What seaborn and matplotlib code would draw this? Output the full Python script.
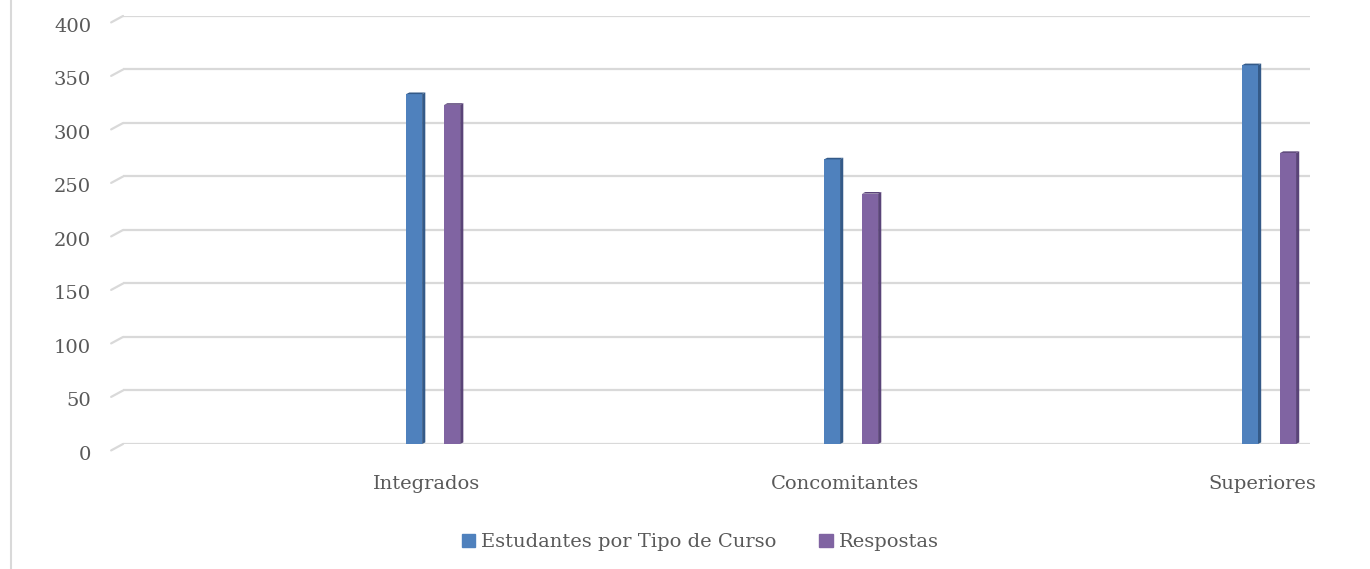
import numpy as np
import pandas as pd
import seaborn as sns
import matplotlib.pyplot as plt
import matplotlib.transforms as mtransforms
from matplotlib.patches import Polygon
from matplotlib.lines import Line2D

# data
categories = ['Integrados', 'Concomitantes', 'Superiores']
estudantes = [327, 266, 354]
respostas = [317, 234, 272]
series_names = ['Estudantes por Tipo de Curso', 'Respostas']
y_ticks = [0, 50, 100, 150, 200, 250, 300, 350, 400]

colors = ['#4F81BD', '#8064A2']
side_colors = ['#345A88', '#5A4478']
text_color = '#595959'
grid_color = '#D9D9D9'

df = pd.DataFrame({
    'categoria': categories * 2,
    'serie': [series_names[0]] * 3 + [series_names[1]] * 3,
    'valor': estudantes + respostas,
})

sns.set_theme(style='white')
plt.rcParams['font.family'] = ['DejaVu Serif']

fig = plt.figure(figsize=(13.7, 5.69), dpi=100)
ax = fig.add_axes([0.0898, 0.2197, 0.8664, 0.7522])

sns.barplot(data=df, x='categoria', y='valor', hue='serie', palette=colors,
            width=0.182, gap=0.58, ax=ax, legend=False, zorder=3,
            linewidth=0, saturation=1)

ax.set_ylim(0, 400)
ax.set_xlim(-0.742, 2.098)
ax.set_yticks(y_ticks)
ax.set_xticks([i - 0.015 for i in range(len(categories))])
ax.set_xticklabels(categories)
ax.set_xlabel('')
ax.set_ylabel('')
ax.tick_params(axis='both', length=0, labelsize=14, colors=text_color)
ax.tick_params(axis='x', pad=22)
ax.tick_params(axis='y', pad=23)
for s in ax.spines.values():
    s.set_visible(False)

# y labels sit at the front of the floor, a bit below the back-wall lines
shift = mtransforms.ScaledTranslation(0, -9 / 100, fig.dpi_scale_trans)
for lbl in ax.get_yticklabels():
    lbl.set_transform(lbl.get_transform() + shift)

# back-wall gridlines and the small floor diagonals
for t in y_ticks:
    ax.axhline(t, color=grid_color, lw=1.6, zorder=1)
    ax.plot([-0.01, 0.0], [t - 6, t], color=grid_color, lw=1.6,
            transform=ax.get_yaxis_transform(), clip_on=False, zorder=1)

# a darker side face on each bar for the 3-D look
n = len(categories)
for k, p in enumerate(ax.patches[:2 * n]):
    x0, w, h = p.get_x(), p.get_width(), p.get_height()
    d = w * 0.2
    side = Polygon([[x0 + w, 0], [x0 + w + d, 1.5], [x0 + w + d, h + 1.5], [x0 + w, h]],
                   closed=True, color=side_colors[k // n], zorder=3, lw=0)
    ax.add_patch(side)
    top = Polygon([[x0, h], [x0 + d, h + 1.5], [x0 + w + d, h + 1.5], [x0 + w, h]],
                  closed=True, color=side_colors[k // n], zorder=3, lw=0)
    ax.add_patch(top)

handles = [plt.Rectangle((0, 0), 1, 1, color=c) for c in colors]
fig.legend(handles, series_names, loc='center', bbox_to_anchor=(0.511, 0.047),
           ncol=2, frameon=False, fontsize=14, handlelength=0.7, handleheight=0.7,
           handletextpad=0.3, columnspacing=2.2, labelcolor=text_color)

# left border of the chart area
fig.add_artist(Line2D([11 / 1370, 11 / 1370], [0, 1], color=grid_color, lw=1.5))

fig.savefig('out.png', dpi=100)
